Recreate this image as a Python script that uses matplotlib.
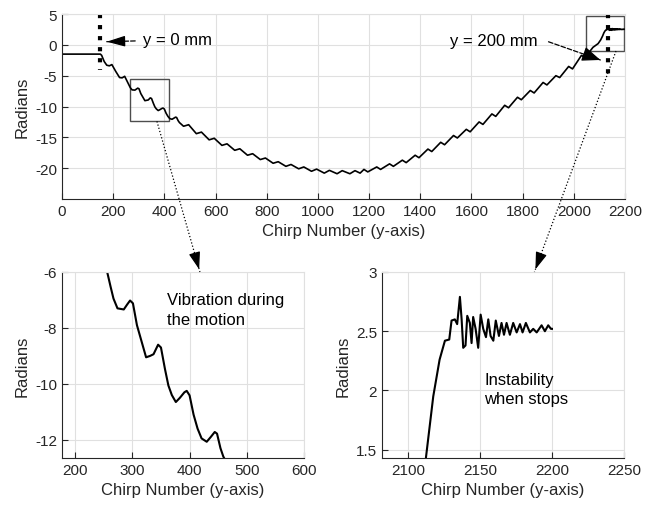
import numpy as np
import matplotlib
matplotlib.use('Agg')
import matplotlib.pyplot as plt
from matplotlib.patches import Rectangle

plt.rcParams['font.family'] = ['Liberation Sans', 'DejaVu Sans']
plt.rcParams['axes.unicode_minus'] = False

# phase vs chirp (segments)
descent_x = [0, 150, 155, 165, 175, 185, 195, 210, 225, 235, 245, 256, 262, 267, 274,
             285, 291, 296, 301, 308, 315, 324, 331, 337, 345, 350, 357, 363, 369, 376,
             383, 391, 395, 400, 407, 414, 421, 430, 437, 444, 448, 454, 459]
descent_y = [-1.5, -1.5, -1.7, -2.7, -3.3, -3.4, -3.2, -4.3, -5.3, -5.35, -5.1, -6.0, -6.53,
             -6.95, -7.3, -7.34, -7.16, -7.02, -7.12, -7.9, -8.4, -9.05, -9.0, -8.94, -8.6,
             -8.7, -9.47, -10.06, -10.4, -10.65, -10.5, -10.3, -10.25, -10.41, -11.1, -11.6,
             -11.95, -12.07, -11.9, -11.72, -11.78, -12.3, -12.6]

valley_x = [475, 495, 525, 545, 575, 595, 625, 645, 675, 695, 725, 745, 775, 795, 825, 845,
            875, 895, 925, 945, 975, 995, 1025, 1045, 1075, 1095, 1125, 1145, 1165]
valley_y = [-13.2, -12.95, -14.4, -14.15, -15.4, -15.15, -16.3, -16.05, -17.1, -16.85, -17.9,
            -17.65, -18.6, -18.35, -19.2, -18.95, -19.7, -19.4, -20.1, -19.8, -20.5, -20.15,
            -20.8, -20.35, -20.9, -20.4, -20.9, -20.4, -20.8]

ascent_x = [1180, 1195, 1230, 1245, 1280, 1295, 1330, 1345, 1380, 1395, 1430, 1445, 1480,
            1495, 1530, 1545, 1580, 1595, 1630, 1645, 1680, 1695, 1730, 1745, 1780, 1795,
            1830, 1845, 1880, 1895, 1930, 1945, 1980, 1995, 2030, 2045, 2060, 2075, 2085,
            2095, 2105, 2112.5, 2117.6, 2122, 2125.7, 2128.7]
ascent_y = [-20.2, -20.6, -19.8, -20.2, -19.3, -19.7, -18.7, -19.1, -17.9, -18.3, -16.9,
            -17.3, -15.8, -16.2, -14.7, -15.1, -13.7, -14.1, -12.5, -12.9, -11.2, -11.6,
            -9.8, -10.2, -8.5, -8.9, -7.4, -7.8, -6.1, -6.5, -5.0, -5.3, -3.5, -3.9, -1.7,
            -2.1, -1.2, -0.4, -0.1, 0.2, 0.8, 1.43, 1.95, 2.26, 2.42, 2.43]

settle_x = [2130.3, 2132.6, 2134.2, 2136.1, 2137.3, 2138.4, 2140, 2141.2, 2143, 2144.2,
            2145.3, 2147, 2148.8, 2150.5, 2152.3, 2154.2, 2155.8, 2157.4, 2159.3, 2161,
            2163.2, 2165, 2166.7, 2168.5, 2170.8, 2173.1, 2175.5, 2177.8, 2179.6, 2181.9,
            2184.7, 2187, 2189.4, 2192.8, 2195.1, 2197.4, 2199.3, 2200]
settle_y = [2.59, 2.6, 2.56, 2.79, 2.6, 2.36, 2.38, 2.63, 2.57, 2.40, 2.62, 2.52, 2.36, 2.64,
            2.52, 2.45, 2.6, 2.46, 2.42, 2.59, 2.46, 2.57, 2.47, 2.57, 2.47, 2.57, 2.49, 2.56,
            2.49, 2.57, 2.49, 2.52, 2.49, 2.55, 2.50, 2.55, 2.52, 2.52]

chirp = np.concatenate([descent_x, valley_x, ascent_x, settle_x])
phase = np.concatenate([descent_y, valley_y, ascent_y, settle_y])

dark = '0.15'
grid_c = '0.88'


def style(ax):
    ax.grid(True, color=grid_c, lw=0.8)
    ax.set_axisbelow(True)
    for s in ['top', 'right']:
        ax.spines[s].set_color(grid_c)
    for s in ['left', 'bottom']:
        ax.spines[s].set_color(dark)
        ax.spines[s].set_linewidth(0.8)
    ax.tick_params(direction='in', length=4, width=0.8, colors=dark, labelsize=11)
    ax.set_xlabel('Chirp Number (y-axis)', fontsize=12, color=dark)
    ax.set_ylabel('Radians', fontsize=12, color=dark)


fig = plt.figure(figsize=(6.58, 5.06), dpi=100)
ax = fig.add_axes([0.0942, 0.6047, 0.8556, 0.3656])
ax1 = fig.add_axes([0.0942, 0.0929, 0.3678, 0.3676])
ax2 = fig.add_axes([0.5805, 0.0929, 0.3678, 0.3676])

# main trace
ax.plot(chirp, phase, color='k', lw=1.2)
ax.set_xlim(0, 2200)
ax.set_ylim(-25, 5)
ax.set_xticks(np.arange(0, 2201, 200))
ax.set_yticks([-20, -15, -10, -5, 0, 5])
style(ax)

# start / stop markers
ax.plot([150, 150], [5, -4], color='k', ls=':', lw=3)
ax.plot([2133, 2133], [5, -5], color='k', ls=':', lw=3)

# zoom boxes
ax.add_patch(Rectangle((266, -12.4), 152, 6.9, fill=False, ec='0.3', lw=1))
ax.add_patch(Rectangle((2048, -1.0), 148, 5.7, fill=False, ec='0.3', lw=1))

# labels with dashed leader arrows
ax.text(317, 0.9, 'y = 0 mm', fontsize=12, va='center', color='k')
ax.annotate('', xy=(164, 0.5), xytext=(297, 0.65),
            arrowprops=dict(arrowstyle='-', ls='--', lw=0.9, color='k'))
ax.annotate('', xy=(164, 0.5), xytext=(215, 0.56),
            arrowprops=dict(arrowstyle='-|>,head_length=0.75,head_width=0.22',
                            mutation_scale=15, lw=0.9, color='k'))
ax.text(1516, 0.65, 'y = 200 mm', fontsize=12, va='center', color='k')
ax.annotate('', xy=(2114, -2.6), xytext=(1891, 0.65),
            arrowprops=dict(arrowstyle='-', ls='--', lw=0.9, color='k'))
ax.annotate('', xy=(2114, -2.6), xytext=(2060, -1.8),
            arrowprops=dict(arrowstyle='-|>,head_length=0.75,head_width=0.3',
                            mutation_scale=15, lw=0.9, color='k'))

# inset 1: vibration during motion
ax1.plot(chirp, phase, color='k', lw=1.5)
ax1.set_xlim(177, 600)
ax1.set_ylim(-12.65, -6)
ax1.set_xticks([200, 300, 400, 500, 600])
ax1.set_yticks([-12, -10, -8, -6])
style(ax1)
ax1.text(360, -6.72, 'Vibration during\nthe motion', fontsize=12, va='top', color='k',
         linespacing=1.4)

# inset 2: instability when stops
ax2.plot(chirp, phase, color='k', lw=1.5)
ax2.set_xlim(2082, 2250)
ax2.set_ylim(1.43, 3)
ax2.set_xticks([2100, 2150, 2200, 2250])
ax2.set_yticks([1.5, 2, 2.5, 3])
ax2.set_yticklabels(['1.5', '2', '2.5', '3'])
style(ax2)
ax2.text(2153, 2.16, 'Instability\nwhen stops', fontsize=12, va='top', color='k',
         linespacing=1.4)


# dotted connectors from the boxes to the insets
def connector(p0, p1):
    p0 = np.asarray(p0, float)
    p1 = np.asarray(p1, float)
    d = (p1 - p0) / np.hypot(*(p1 - p0))
    fig.add_artist(plt.Line2D([p0[0] / fig.bbox.width, p1[0] / fig.bbox.width],
                              [p0[1] / fig.bbox.height, p1[1] / fig.bbox.height],
                              color='k', ls=':', lw=0.9))
    ax.annotate('', xy=p1, xycoords='figure pixels', xytext=p1 - 14 * d,
                textcoords='figure pixels',
                arrowprops=dict(arrowstyle='-|>,head_length=0.75,head_width=0.25',
                                mutation_scale=14, lw=0.9, color='k'))


connector(ax.transData.transform((371, -12.4)), ax1.transAxes.transform((0.57, 1.0)))
connector(ax.transData.transform((2165, -1.0)), ax2.transAxes.transform((0.63, 1.0)))

fig.savefig('out.png', dpi=100)
